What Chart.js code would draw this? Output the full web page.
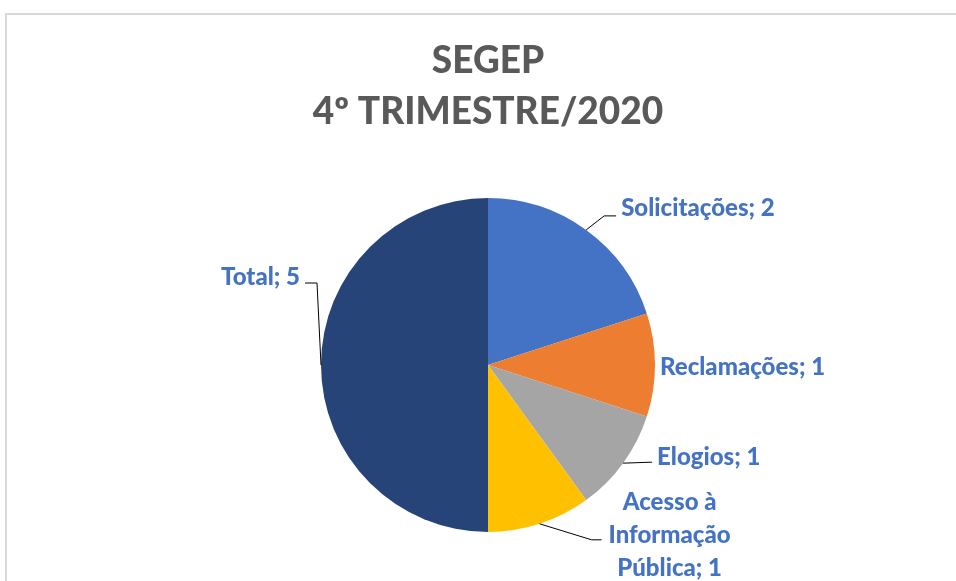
<!DOCTYPE html>
<html>
<head>
<meta charset="utf-8">
<script src="https://cdn.jsdelivr.net/npm/chart.js@4/dist/chart.umd.min.js"></script>
<style>
  body { margin: 0; background: #fff; }
  #wrap { width: 956px; height: 581px; position: relative; }
</style>
</head>
<body>
<div id="wrap"><canvas id="segepChart"></canvas></div>
<script>
// Dados do gráfico
const categories = ['Solicitações', 'Reclamações', 'Elogios', 'Acesso à Informação Pública', 'Total'];
const values = [2, 1, 1, 1, 5];
const sliceColors = ['#4472C4', '#ED7D31', '#A5A5A5', '#FFC000', '#264478'];
const titleLines = ['SEGEP', '4º TRIMESTRE/2020'];

// posição dos rótulos relativa ao ponto médio da borda de cada fatia
const labelPlacement = [
  { line: [[18, -14], [30, -14]], text: [35, -22], align: 'left' },
  { line: null, text: [5, 2], align: 'left' },
  { line: [[29, -1]], text: [34, -6], align: 'left' },
  { line: [[52, 16], [62, 16]], text: [130, -22], align: 'center', wrap: 150 },
  { line: [[-4, -82], [-16, -82]], text: [-21, -88], align: 'right' }
];

const labelFont = '900 24px Lato';

function wrapText(ctx, text, maxWidth) {
  if (!maxWidth) return [text];
  const words = text.split(' ');
  const lines = [];
  let cur = '';
  words.forEach(w => {
    const test = cur ? cur + ' ' + w : w;
    if (cur && ctx.measureText(test).width > maxWidth) {
      lines.push(cur);
      cur = w;
    } else {
      cur = test;
    }
  });
  if (cur) lines.push(cur);
  return lines;
}

const decorPlugin = {
  id: 'decor',
  afterDraw(chart) {
    const ctx = chart.ctx;
    ctx.save();

    // moldura
    ctx.strokeStyle = '#d9d9d9';
    ctx.lineWidth = 2;
    ctx.beginPath();
    ctx.moveTo(6, chart.height);
    ctx.lineTo(6, 14);
    ctx.lineTo(chart.width, 14);
    ctx.stroke();

    // título
    ctx.fillStyle = '#595959';
    ctx.font = '900 37px Lato';
    ctx.textAlign = 'center';
    ctx.textBaseline = 'middle';
    titleLines.forEach((t, i) => ctx.fillText(t, 488, 61 + i * 51));

    // rótulos das fatias
    const meta = chart.getDatasetMeta(0);
    ctx.font = labelFont;
    meta.data.forEach((arc, i) => {
      const p = arc.getProps(['x', 'y', 'startAngle', 'endAngle', 'outerRadius'], true);
      const mid = (p.startAngle + p.endAngle) / 2;
      const ax = p.x + Math.cos(mid) * p.outerRadius;
      const ay = p.y + Math.sin(mid) * p.outerRadius;
      const pl = labelPlacement[i];

      if (pl.line) {
        ctx.strokeStyle = '#000';
        ctx.lineWidth = 1;
        ctx.beginPath();
        ctx.moveTo(ax, ay);
        pl.line.forEach(pt => ctx.lineTo(ax + pt[0], ay + pt[1]));
        ctx.stroke();
      }

      ctx.fillStyle = '#4472C4';
      ctx.textAlign = pl.align;
      ctx.textBaseline = 'middle';
      const lines = wrapText(ctx, categories[i] + '; ' + values[i], pl.wrap);
      lines.forEach((l, k) => ctx.fillText(l, ax + pl.text[0], ay + pl.text[1] + k * 33));
    });
    ctx.restore();
  }
};

const ctx = document.getElementById('segepChart').getContext('2d');
const segepChart = new Chart(ctx, {
  type: 'pie',
  data: {
    labels: categories,
    datasets: [{
      data: values,
      backgroundColor: sliceColors,
      borderWidth: 0,
      hoverOffset: 0
    }]
  },
  options: {
    responsive: true,
    maintainAspectRatio: false,
    animation: false,
    layout: {
      padding: { top: 198, bottom: 49, left: 100, right: 80 }
    },
    plugins: {
      legend: { display: false },
      title: { display: false },
      tooltip: { enabled: false }
    }
  },
  plugins: [decorPlugin]
});
</script>
</body>
</html>
